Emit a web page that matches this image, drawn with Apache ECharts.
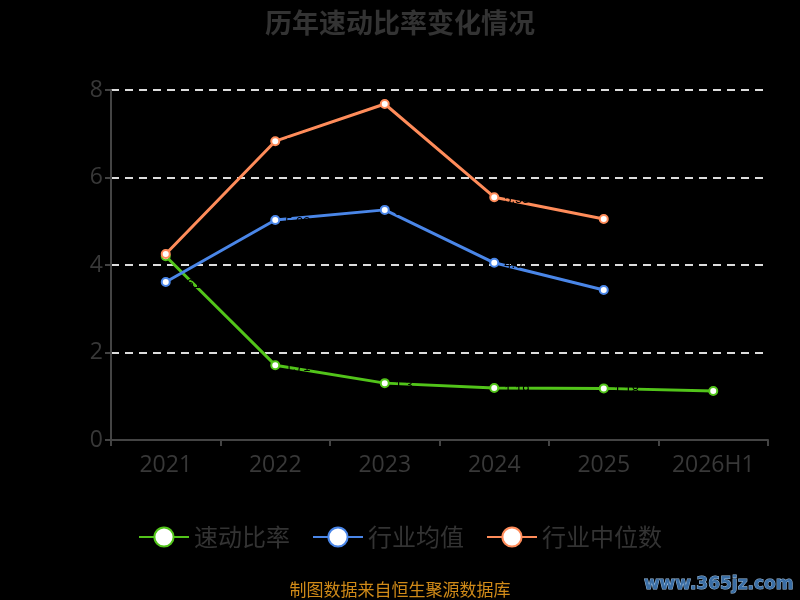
<!DOCTYPE html>
<html><head><meta charset="utf-8">
<script src="https://cdn.jsdelivr.net/npm/echarts@6/dist/echarts.min.js"></script>
<style>html,body{margin:0;padding:0;background:#000;}#c{width:800px;height:600px;}</style>
</head><body><div id="c"></div>
<script>
var categories = ['2021','2022','2023','2024','2025','2026H1'];
var quickRatio = [4.2, 1.71, 1.30, 1.19, 1.18, 1.12];
var industryAvg = [3.61, 5.03, 5.26, 4.05, 3.43, null];
var industryMedian = [4.25, 6.83, 7.68, 5.55, 5.05, null];
var yTicks = [0, 8, 2];

var chart = echarts.init(document.getElementById('c'));
function s(name, data, color){
  return {name:name,type:'line',data:data,symbol:'circle',symbolSize:8,
    itemStyle:{color:'#fff',borderColor:color,borderWidth:2},
    lineStyle:{color:color,width:3},
    label:{show:true,position:'right',color:'#000',fontSize:13,offset:[0,2]},
    connectNulls:false};
}
chart.setOption({
  backgroundColor:'#000',
  title:{text:'历年速动比率变化情况',left:'center',top:4,textStyle:{color:'#333',fontSize:27,fontWeight:'bold',fontFamily:'Noto Sans CJK SC'}},
  grid:{left:111,right:32,top:90,bottom:160},
  legend:{bottom:46,itemWidth:50,itemHeight:24,itemGap:22,
    textStyle:{color:'#333',fontSize:24,fontFamily:'Noto Sans CJK SC'},
    data:['速动比率','行业均值','行业中位数']},
  xAxis:{type:'category',data:categories,boundaryGap:true,
    axisLine:{lineStyle:{color:'#444',width:2}},
    axisTick:{show:true,length:6,lineStyle:{color:'#444',width:2}},
    axisLabel:{color:'#383838',fontSize:23,margin:14,fontFamily:'Open Sans'}},
  yAxis:{type:'value',min:yTicks[0],max:yTicks[1],interval:yTicks[2],
    axisLine:{show:true,lineStyle:{color:'#444',width:2}},
    axisTick:{show:true,length:6,lineStyle:{color:'#444',width:2}},
    axisLabel:{color:'#383838',fontSize:23,margin:8,fontFamily:'Open Sans'},
    splitLine:{lineStyle:{color:'#ddd',type:[8,6],width:2}}},
  series:[s('速动比率',quickRatio,'#52c41a'),s('行业均值',industryAvg,'#4a86e8'),s('行业中位数',industryMedian,'#ff8c5a')],
  graphic:[
    {type:'text',left:'center',bottom:2,style:{text:'制图数据来自恒生聚源数据库',fill:'#d08a18',fontSize:17,fontFamily:'Noto Sans CJK SC'}},
    {type:'text',right:6,bottom:6,style:{text:'www.365jz.com',fill:'#3a6ea5',fontSize:17,fontWeight:'bold',stroke:'#9fc0e0',lineWidth:1,fontFamily:'DejaVu Sans'}}
  ]
});
</script></body></html>
